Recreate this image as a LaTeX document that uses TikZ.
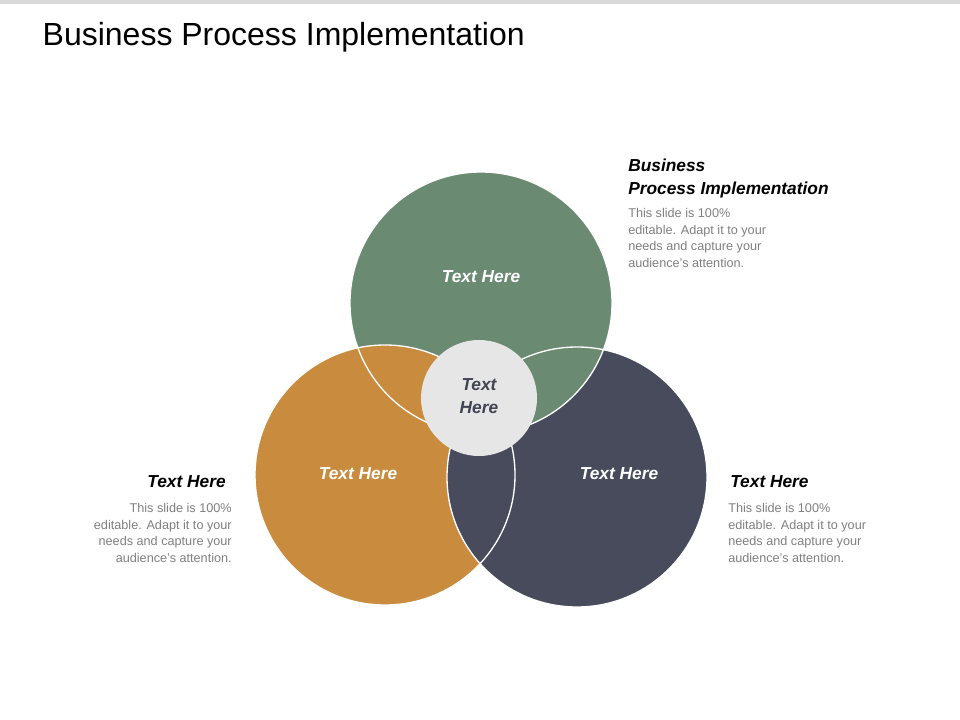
\documentclass[tikz,border=0pt]{standalone}
\usepackage{fontspec}
\setmainfont{Liberation Sans}
\definecolor{sage}{HTML}{6A8A72}
\definecolor{ochre}{HTML}{C98B3E}
\definecolor{slate}{HTML}{474B5C}
\definecolor{hub}{HTML}{E6E6E6}
\definecolor{body}{HTML}{7F7F7F}
\tikzset{
  heading/.style={font=\fontsize{13}{15}\selectfont\bfseries\itshape, inner sep=0pt},
  blurb/.style={font=\fontsize{9.5}{12.5}\selectfont, text=body, inner sep=0pt},
  inlabel/.style={font=\fontsize{13}{15}\selectfont\bfseries\itshape, text=white, inner sep=0pt},
}
\begin{document}
\begin{tikzpicture}[x=0.75pt,y=-0.75pt]
  \useasboundingbox (0,0) rectangle (960,720);
  \fill[gray!30] (0,0) rectangle (960,4);
  \node[anchor=west, font=\fontsize{24}{28}\selectfont] (title) at (38,37) {Business Process Implementation};
  % circles
  \fill[ochre] (385,475) circle (130);
  \fill[slate] (577,477) circle (130);
  \fill[sage] (481,303) circle (131);
  \begin{scope}
    \clip (481,303) circle (131);
    \fill[ochre] (385,475) circle (130);
  \end{scope}
  \draw[white, line width=1pt] (481,303) circle (131) (385,475) circle (130) (577,477) circle (130);
  \fill[hub] (479,398) circle (58);
  \node[inlabel] (tg) at (481,277) {Text Here};
  \node[inlabel] (to) at (358,474) {Text Here};
  \node[inlabel] (ts) at (619,474) {Text Here};
  \node[heading, text=slate!90!black, align=center, font=\fontsize{13}{17}\selectfont\bfseries\itshape] (th) at (479,396) {Text\\Here};
  % side texts
  \node[heading, anchor=north west, align=left, font=\fontsize{13}{17}\selectfont\bfseries\itshape] (h1) at (628,159) {Business\\Process Implementation};
  \node[blurb, anchor=north west, align=left] (b1) at (628,208) {This slide is 100\%\\editable. Adapt it to your\\needs and capture your\\audience's attention.};
  \node[heading, anchor=north east] (h2) at (226,475) {Text Here};
  \node[blurb, anchor=north east, align=right] (b2) at (232,503) {This slide is 100\%\\editable. Adapt it to your\\needs and capture your\\audience's attention.};
  \node[heading, anchor=north west] (h3) at (730,475) {Text Here};
  \node[blurb, anchor=north west, align=left] (b3) at (728,503) {This slide is 100\%\\editable. Adapt it to your\\needs and capture your\\audience's attention.};
\end{tikzpicture}
\end{document}
